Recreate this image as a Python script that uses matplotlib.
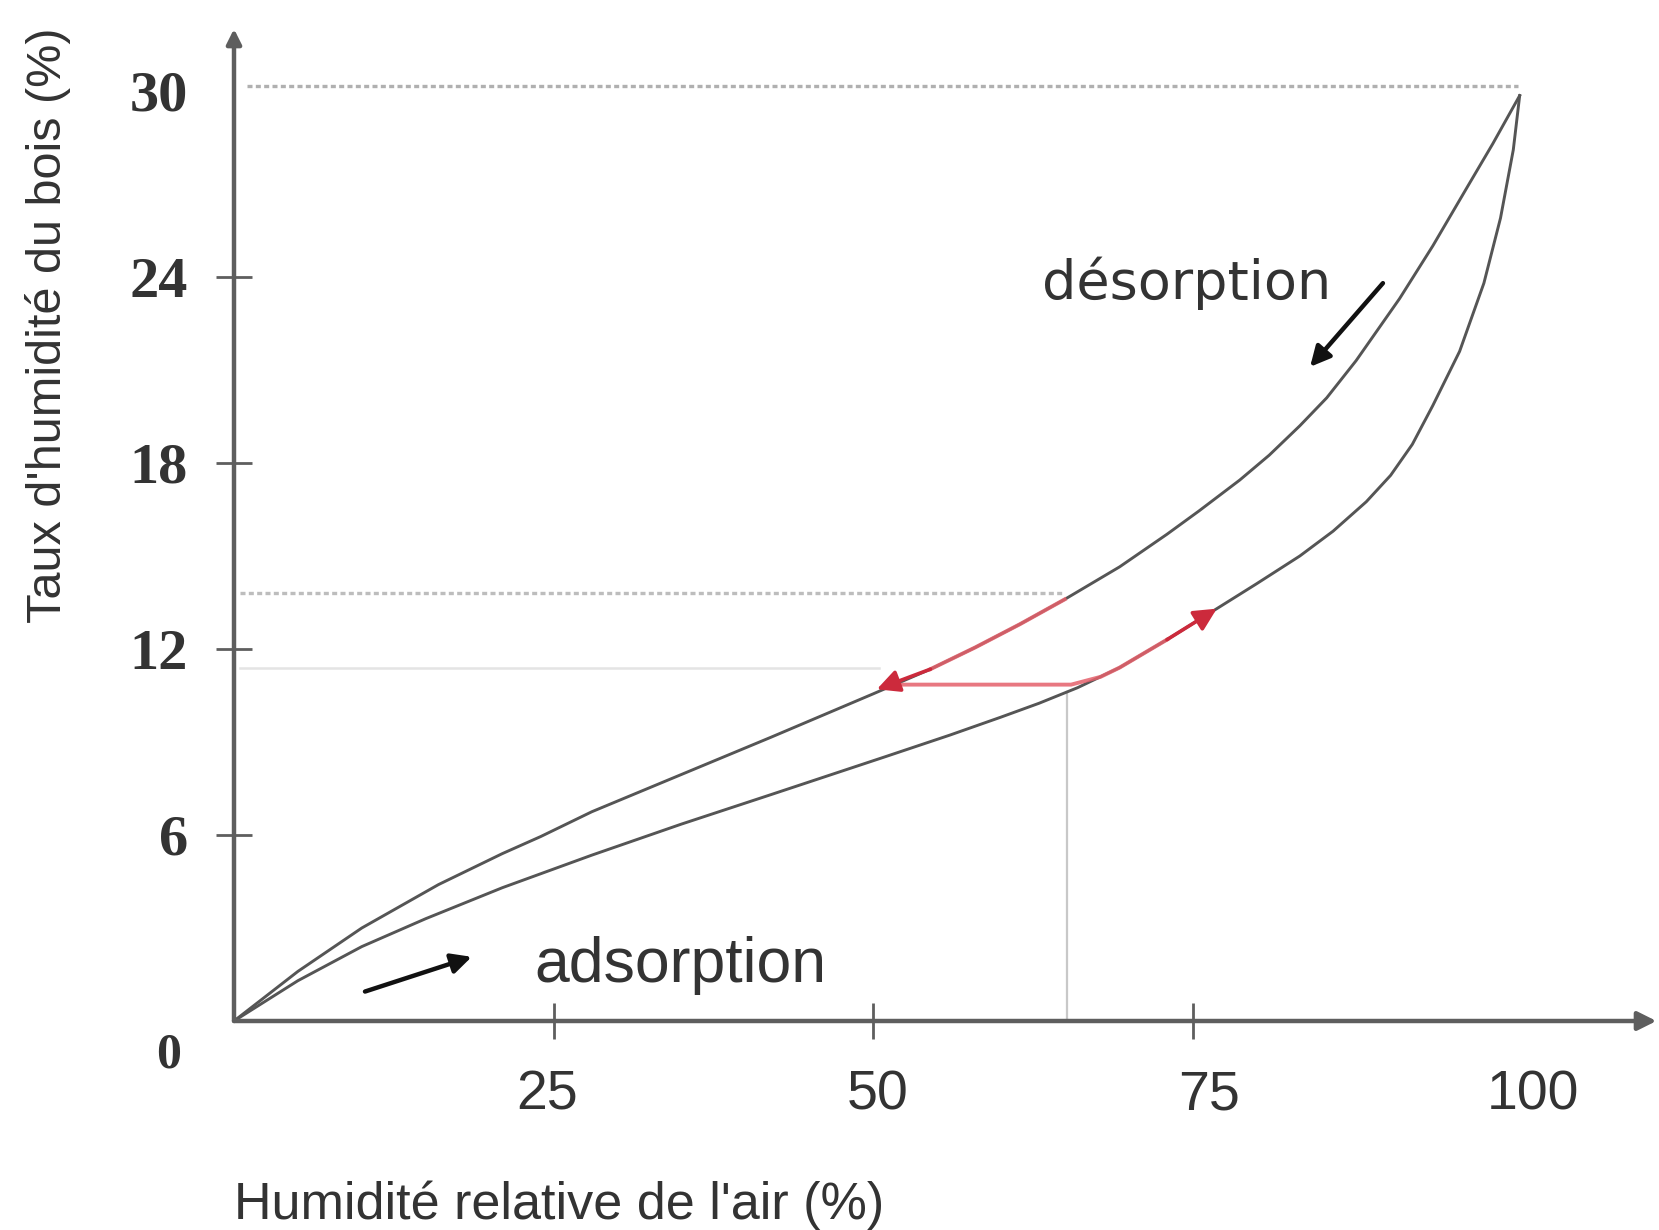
import matplotlib
matplotlib.use("Agg")
import matplotlib.pyplot as plt
from matplotlib.transforms import ScaledTranslation

# ---- data ----
desorption_x = [0, 5, 10, 16, 21, 24, 28, 35, 42, 46, 50, 54.5, 58, 61.5, 65, 69.3,
                73, 75.5, 78.7, 81, 83.4, 85.5, 87.8, 91.2, 93.8, 96.5, 98.5, 100.6]
desorption_y = [0, 1.6, 3.0, 4.4, 5.4, 5.95, 6.75, 7.95, 9.15, 9.85, 10.55, 11.35, 12.05,
                12.8, 13.6, 14.65, 15.7, 16.45, 17.45, 18.25, 19.2, 20.1, 21.3, 23.3, 25.0,
                26.9, 28.3, 29.85]

adsorption_x = [0, 5, 10, 15, 21, 28, 35, 42, 51, 56, 60, 63, 66, 69.3, 73, 76.9, 80,
                83.4, 86, 88.6, 90.5, 92.2, 93.8, 95.9, 97.8, 99.1, 100.1, 100.6]
adsorption_y = [0, 1.3, 2.4, 3.3, 4.3, 5.35, 6.35, 7.3, 8.53, 9.22, 9.8, 10.25, 10.75, 11.4,
                12.3, 13.3, 14.1, 15.0, 15.8, 16.75, 17.6, 18.6, 19.85, 21.6, 23.8, 25.9,
                28.1, 29.85]

# red cycle paths
red_down_x = [65, 61.5, 58, 54.5, 50.3]
red_down_y = [13.6, 12.8, 12.05, 11.35, 10.7]
red_up_x = [51.5, 58, 65.5, 67.8, 69.3, 73, 76.9]
red_up_y = [10.85, 10.85, 10.85, 11.1, 11.4, 12.3, 13.3]

x_ticks = [25, 50, 75, 100]
x_ticklabels = ["25", "50", "75", "100"]
y_ticks = [6, 12, 18, 24, 30]
y_ticklabels = ["6", "12", "18", "24", "30"]

# reference guide lines
level_max = 30.15
level_eq = 13.8
level_faint = 11.4
rh_eq = 65.2
rh_eq_top = 10.62

xmax, ymax = 111.3, 32.0

fig = plt.figure(figsize=(16.59, 12.30), dpi=100)
ax = fig.add_axes([0.14105, 0.16992, 0.8574, 0.8116])
ax.set_xlim(0, xmax)
ax.set_ylim(0, 32.2)
for s in ax.spines.values():
    s.set_visible(False)

axis_col = "#5e5e5e"
curve_col = "#555555"
txt_col = "#333333"

# guide lines
ax.plot([1, 100.5], [level_max, level_max], color="#b0b0b0", lw=2.4, ls=(0, (1.5, 1.0)), zorder=1)
ax.plot([0.5, 65], [level_eq, level_eq], color="#bdbdbd", lw=2.4, ls=(0, (1.5, 1.0)), zorder=1)
ax.plot([0.5, 50.5], [level_faint, level_faint], color="#e4e4e4", lw=1.8, zorder=1)
ax.plot([rh_eq, rh_eq], [0, rh_eq_top], color="#c8c8c8", lw=1.6, zorder=1)

# curves
ax.plot(desorption_x, desorption_y, color=curve_col, lw=2.1, zorder=3, solid_joinstyle="round")
ax.plot(adsorption_x, adsorption_y, color=curve_col, lw=2.1, zorder=3, solid_joinstyle="round")

# red arrows
red_line = "#e5606b"
red_head = "#cc2a3c"
ax.plot(red_down_x[:-1], red_down_y[:-1], color=red_line, lw=2.8, alpha=0.85, zorder=4)
ax.annotate("", xy=(red_down_x[-1], red_down_y[-1]), xytext=(red_down_x[-2], red_down_y[-2]),
            arrowprops=dict(arrowstyle="-|>", color=red_head, lw=2.6, mutation_scale=34,
                            shrinkA=0, shrinkB=0), zorder=5)
ax.plot(red_up_x[:-1], red_up_y[:-1], color=red_line, lw=2.8, alpha=0.85, zorder=4)
ax.annotate("", xy=(red_up_x[-1], red_up_y[-1]), xytext=(red_up_x[-2], red_up_y[-2]),
            arrowprops=dict(arrowstyle="-|>", color=red_head, lw=2.6, mutation_scale=34,
                            shrinkA=0, shrinkB=0), zorder=5)

# axes with arrows
ax.annotate("", xy=(xmax, 0), xytext=(0, 0),
            arrowprops=dict(arrowstyle="-|>", color=axis_col, lw=3.2, mutation_scale=28,
                            shrinkA=0, shrinkB=0), annotation_clip=False, zorder=6)
ax.annotate("", xy=(0, ymax), xytext=(0, 0),
            arrowprops=dict(arrowstyle="-|>", color=axis_col, lw=3.2, mutation_scale=22,
                            shrinkA=0, shrinkB=0), annotation_clip=False, zorder=6)

# ticks
ax.set_xticks(x_ticks, labels=x_ticklabels)
ax.set_yticks(y_ticks, labels=y_ticklabels)
ax.tick_params(axis="x", direction="inout", length=26, width=2, color=axis_col, pad=22,
               labelsize=40, labelcolor=txt_col)
ax.tick_params(axis="y", direction="inout", length=26, width=2, color=axis_col, pad=20,
               labelsize=42, labelcolor=txt_col)
ax.xaxis.get_major_ticks()[-1].tick1line.set_visible(False)
ax.yaxis.get_major_ticks()[-1].tick1line.set_visible(False)
x_label_shift_px = [-6, 5, 17, 21]
for lab, dx in zip(ax.get_xticklabels(), x_label_shift_px):
    lab.set_fontfamily("Liberation Sans")
    lab.set_transform(lab.get_transform() + ScaledTranslation(dx / 100, 0, fig.dpi_scale_trans))
for lab in ax.get_yticklabels():
    lab.set_fontfamily("Liberation Serif")
    lab.set_fontweight("bold")
ax.text(-5.1, -1.1, "0", fontsize=36, fontfamily="Liberation Serif", fontweight="bold",
        color=txt_col, ha="center", va="center", clip_on=False)

# axis labels
ax.set_ylabel("Taux d'humidité du bois (%)", fontsize=35, fontfamily="Liberation Sans",
              color=txt_col, va="center")
ax.yaxis.set_label_coords(-0.1305, 0.697)
ax.set_xlabel("Humidité relative de l'air (%)", fontsize=37.5, fontfamily="Liberation Sans",
              color=txt_col, loc="left", va="center")
ax.xaxis.set_label_coords(0.0, -0.185)

# annotations
ax.text(63.2, 23.8, "désorption", fontsize=39, fontfamily="DejaVu Sans", color=txt_col,
        ha="left", va="center")
ax.text(23.5, 1.8, "adsorption", fontsize=45, fontfamily="Liberation Sans", color=txt_col,
        ha="left", va="center")
ax.annotate("", xy=(18.6, 2.07), xytext=(10.25, 0.95),
            arrowprops=dict(arrowstyle="-|>", color="#111111", lw=3.2, mutation_scale=30,
                            shrinkA=0, shrinkB=0))
ax.annotate("", xy=(84.2, 21.1), xytext=(89.9, 23.8),
            arrowprops=dict(arrowstyle="-|>", color="#111111", lw=3.2, mutation_scale=30,
                            shrinkA=0, shrinkB=0))

fig.savefig("out.png", dpi=100, facecolor="white")
